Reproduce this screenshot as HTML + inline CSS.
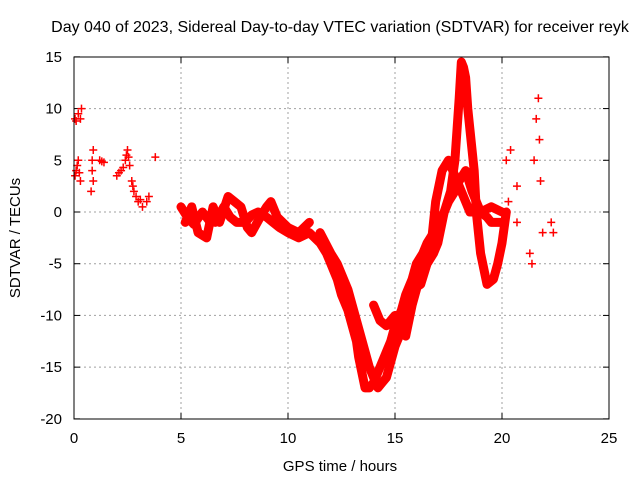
<!DOCTYPE html>
<html><head><meta charset="utf-8"><style>
body{margin:0;background:#fff}
svg{display:block;font-family:"Liberation Sans",sans-serif}
</style></head><body>
<svg id="c" width="640" height="480" viewBox="0 0 640 480">
<text x="340" y="32" font-size="16" text-anchor="middle">Day 040 of 2023, Sidereal Day-to-day VTEC variation (SDTVAR) for receiver reyk</text>
<text x="340" y="471" font-size="15" text-anchor="middle">GPS time / hours</text>
<text x="20" y="238" font-size="15" text-anchor="middle" transform="rotate(-90 20 238)">SDTVAR / TECUs</text>
<g id="grid"></g>
<g id="ticks"></g>
<g id="marks"></g>
<rect x="74" y="57" width="535" height="362" fill="none" stroke="#000" stroke-width="1"/>
</svg>
<script>
const xTicks=[0,5,10,15,20,25];
const yTicks=[15,10,5,0,-5,-10,-15,-20];
const trackEarly=[[0.05,9],[0.1,8.8],[0.2,9.5],[0.3,9],[0.35,10],[0.05,3.5],[0.15,4.5],[0.2,5],[0.1,4],[0.25,3.8],[0.3,3],[0.8,2],[0.85,4],[0.9,6],[0.85,5],[0.9,3],[1.2,5],[1.3,4.9],[1.4,4.8],[2,3.5],[2.1,3.8],[2.2,4],[2.3,4.3],[2.4,5],[2.5,6],[2.45,5.5],[2.55,5.3],[2.6,4.5],[2.7,3],[2.75,2.5],[2.8,2],[2.9,1.5],[3.0,1],[3.1,1.2],[3.2,0.5],[3.4,1],[3.5,1.5],[3.8,5.3]];
const trackMain=[[5,0.5],[5.3,-0.5],[5.6,-1.2],[6,0],[6.3,-0.8],[6.6,-1],[7,0.5],[7.3,-0.5],[7.6,-1],[8,-1],[8.3,-0.3],[8.6,0],[9,-0.5],[9.3,-1],[9.6,-1.5],[10,-2],[10.5,-2.5],[11,-2],[11.5,-3],[11.8,-4],[12,-5],[12.3,-6.5],[12.5,-8],[12.8,-9.5],[13,-11],[13.2,-12.5],[13.3,-14],[13.5,-16],[13.6,-17],[13.8,-17],[14,-16.5],[14.3,-15],[14.5,-14],[14.8,-12.5],[15,-11],[15.3,-9.5],[15.5,-8],[15.8,-6.5],[16,-5],[16.3,-4],[16.5,-3],[16.8,-2],[17,-1],[17.3,0],[17.5,1],[17.8,2],[18,3],[18.3,4],[18.6,2],[18.8,1],[19,0],[19.3,-0.5],[19.5,-1],[20,-1]];
const trackBand=[[5.2,-1],[5.5,0.5],[5.8,-2],[6.2,-2.5],[6.5,0.5],[6.8,-1],[7.2,1.5],[7.5,1],[7.8,0.5],[8.1,-1.5],[8.3,-2],[8.7,-0.5],[9,0.5],[9.2,1],[9.5,-0.5],[10,-1.5],[10.5,-2],[11,-1]];
const trackDip2=[[11.5,-2],[12,-4],[12.3,-5],[12.5,-6],[12.8,-7.5],[13,-9],[13.2,-10.5],[13.4,-12],[13.6,-13.5],[13.8,-15],[14,-16],[14.2,-17],[14.4,-16.5],[14.6,-16],[14.8,-14.5],[15,-13],[15.3,-11.5],[15.5,-10],[15.8,-7.5],[16.2,-7],[16.5,-5],[16.8,-4],[17,-3],[17.3,0],[17.6,2],[17.8,5],[17.9,8],[18,11],[18.1,14.5],[18.2,14],[18.3,13],[18.4,10],[18.5,8],[18.7,4],[18.8,0],[19,-4],[19.2,-6],[19.3,-7],[19.6,-6.5],[19.8,-5],[20,-3],[20.2,0]];
const trackRise=[[14,-9],[14.3,-10.5],[14.6,-11],[15,-10],[15.5,-12],[15.8,-9],[16.2,-6],[16.5,-4],[16.7,-3],[16.9,1],[17.2,4],[17.5,5],[18.5,0],[19,0],[19.5,0.5],[20,0]];
const trackLate=[[20.2,5],[20.4,6],[20.3,1],[20.7,2.5],[20.7,-1],[21.3,-4],[21.4,-5],[21.5,5],[21.6,9],[21.7,11],[21.75,7],[21.8,3],[21.9,-2],[22.3,-1],[22.4,-2]];
const X=v=>74+v*(535/25);
const Y=v=>212-v*(362/35);
const NS='http://www.w3.org/2000/svg';
const grid=document.getElementById('grid'),ticks=document.getElementById('ticks'),marks=document.getElementById('marks');
function mk(t,a,p){const e=document.createElementNS(NS,t);for(const k in a)e.setAttribute(k,a[k]);p.appendChild(e);return e;}
xTicks.forEach(t=>{
 if(t>0&&t<25){const g=mk('line',{x1:X(t),x2:X(t),y1:57,y2:419,stroke:'#a0a0a0','stroke-dasharray':'2,3'},grid);
 
 }
 mk('line',{x1:X(t),x2:X(t),y1:419,y2:413,stroke:'#000'},ticks);
 mk('line',{x1:X(t),x2:X(t),y1:57,y2:63,stroke:'#000'},ticks);
 const l=mk('text',{x:X(t),y:443,'font-size':15,'text-anchor':'middle'},ticks);l.textContent=t;
 
 
});
yTicks.forEach(t=>{
 if(t<15&&t>-20){const g=mk('line',{x1:74,x2:609,y1:Y(t),y2:Y(t),stroke:'#a0a0a0','stroke-dasharray':'2,3'},grid);
 
 }
 mk('line',{x1:74,x2:80,y1:Y(t),y2:Y(t),stroke:'#000'},ticks);
 mk('line',{x1:603,x2:609,y1:Y(t),y2:Y(t),stroke:'#000'},ticks);
 const l=mk('text',{x:62,y:Y(t)+5,'font-size':15,'text-anchor':'end'},ticks);l.textContent=t;
 
 
});
function drawTrack(arr,name,line){
 const g=mk('g',{},marks);
 
 
 if(line){mk('polyline',{points:arr.map(p=>X(p[0])+','+Y(p[1])).join(' '),fill:'none',stroke:'#f00','stroke-width':9,'stroke-linejoin':'round','stroke-linecap':'round'},g);}
 arr.forEach(p=>{const x=X(p[0]),y=Y(p[1]);
  const m=mk('path',{d:`M${x-4},${y}H${x+4}M${x},${y-4}V${y+4}`,stroke:'#f00','stroke-width':1.5},g);
  
  
 });
}
drawTrack(trackEarly,'early-points',false);
drawTrack(trackMain,'main-track',true);
drawTrack(trackBand,'band-track',true);
drawTrack(trackDip2,'second-dip-track',true);
drawTrack(trackRise,'rise-track',true);
drawTrack(trackLate,'late-points',false);
</script>
</body></html>
